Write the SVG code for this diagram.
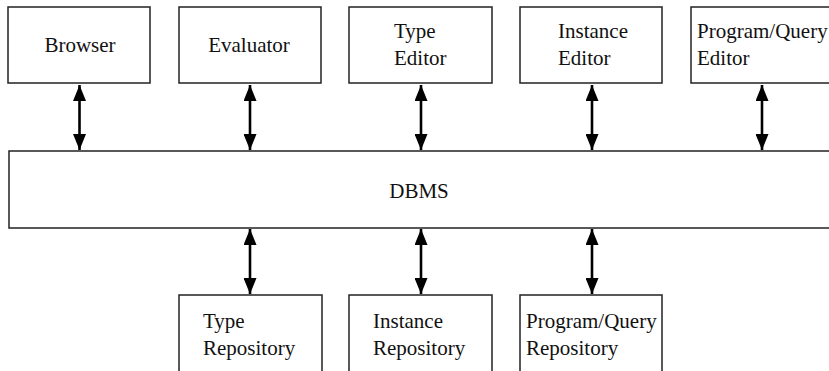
<svg xmlns="http://www.w3.org/2000/svg" width="829" height="371" viewBox="0 0 829 371">
  <style>
    .box { fill: #ffffff; stroke: #222222; stroke-width: 1.5; }
    .lbl { font-family: 'Liberation Serif', 'Times New Roman', Times, 'DejaVu Serif', serif; font-size: 21px; fill: #111111; }
    .mid { text-anchor: middle; }
    .link { stroke: #000000; stroke-width: 2.6; fill: none; marker-start: url(#head); marker-end: url(#head); }
  </style>
  <defs>
    <marker id="head" markerUnits="userSpaceOnUse" markerWidth="16" markerHeight="13" refX="16" refY="6.5" orient="auto-start-reverse">
      <path d="M0,0 L16,6.5 L0,13 Z" fill="#000000"/>
    </marker>
  </defs>
  <rect width="829" height="371" fill="#ffffff"/>

  <!-- connectors: two-way links between tools, DBMS and repositories -->
  <g id="connectors">
    <line class="link" x1="79.5" y1="85" x2="79.5" y2="150"/>
    <line class="link" x1="250" y1="85" x2="250" y2="150"/>
    <line class="link" x1="421" y1="85" x2="421" y2="150"/>
    <line class="link" x1="592" y1="85" x2="592" y2="150"/>
    <line class="link" x1="762" y1="85" x2="762" y2="150"/>
    <line class="link" x1="250" y1="229" x2="250" y2="294"/>
    <line class="link" x1="421" y1="229" x2="421" y2="294"/>
    <line class="link" x1="592" y1="229" x2="592" y2="294"/>
  </g>

  <g id="browser">
    <rect class="box" x="8" y="7" width="142" height="76"/>
    <text class="lbl mid" x="80" y="52" font-family="Liberation Serif, serif">Browser</text>
  </g>
  <g id="evaluator">
    <rect class="box" x="179" y="7" width="142" height="76"/>
    <text class="lbl mid" x="249" y="52" font-family="Liberation Serif, serif">Evaluator</text>
  </g>
  <g id="type-editor">
    <rect class="box" x="349" y="7" width="143" height="76"/>
    <text class="lbl" x="394" y="38" font-family="Liberation Serif, serif">Type</text>
    <text class="lbl" x="394" y="65" font-family="Liberation Serif, serif">Editor</text>
  </g>
  <g id="instance-editor">
    <rect class="box" x="520" y="7" width="142" height="76"/>
    <text class="lbl" x="558" y="38" font-family="Liberation Serif, serif">Instance</text>
    <text class="lbl" x="558" y="65" font-family="Liberation Serif, serif">Editor</text>
  </g>
  <g id="program-query-editor">
    <rect class="box" x="691" y="7" width="150" height="76"/>
    <text class="lbl" x="697" y="38" font-family="Liberation Serif, serif">Program/Query</text>
    <text class="lbl" x="697" y="65" font-family="Liberation Serif, serif">Editor</text>
  </g>

  <g id="dbms">
    <rect class="box" x="9" y="151" width="835" height="77"/>
    <text class="lbl mid" x="419" y="198" font-family="Liberation Serif, serif">DBMS</text>
  </g>

  <g id="type-repository">
    <rect class="box" x="179" y="295" width="143" height="90"/>
    <text class="lbl" x="203" y="328" font-family="Liberation Serif, serif">Type</text>
    <text class="lbl" x="203" y="355" font-family="Liberation Serif, serif">Repository</text>
  </g>
  <g id="instance-repository">
    <rect class="box" x="349" y="295" width="143" height="90"/>
    <text class="lbl" x="373" y="328" font-family="Liberation Serif, serif">Instance</text>
    <text class="lbl" x="373" y="355" font-family="Liberation Serif, serif">Repository</text>
  </g>
  <g id="program-query-repository">
    <rect class="box" x="520" y="295" width="142" height="90"/>
    <text class="lbl" x="526" y="328" font-family="Liberation Serif, serif">Program/Query</text>
    <text class="lbl" x="526" y="355" font-family="Liberation Serif, serif">Repository</text>
  </g>
</svg>
